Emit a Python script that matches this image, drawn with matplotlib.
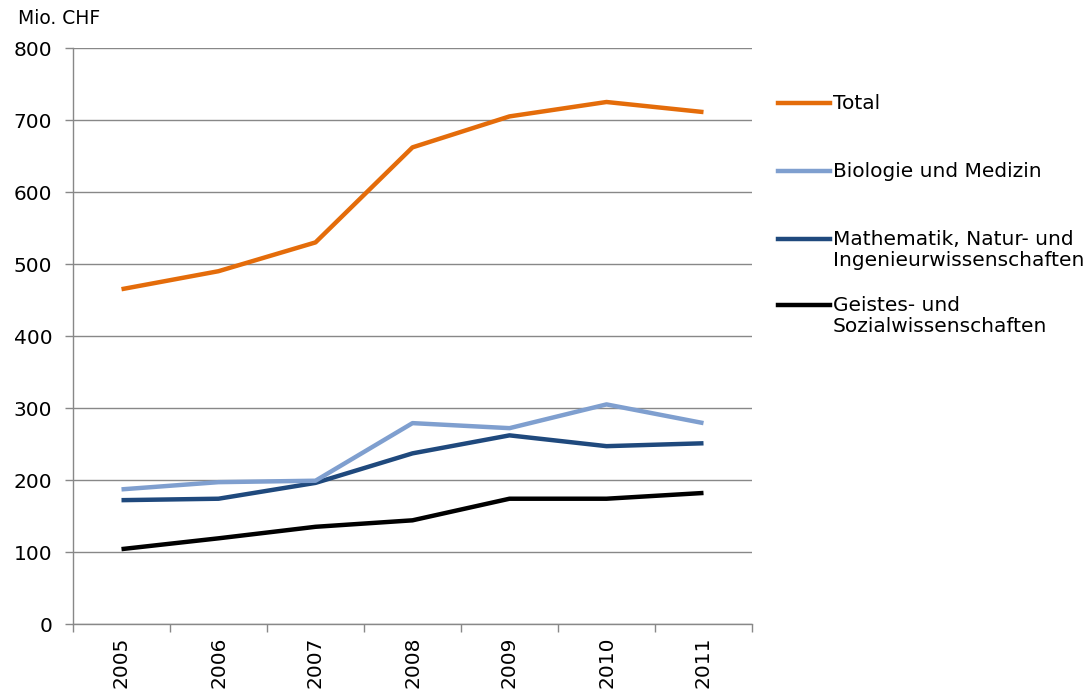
import matplotlib
matplotlib.use("Agg")
import matplotlib.pyplot as plt
from matplotlib.lines import Line2D
import numpy as np

years = ["2005", "2006", "2007", "2008", "2009", "2010", "2011"]
total = [465, 490, 530, 662, 705, 725, 711]
biologie = [187, 197, 199, 279, 272, 305, 279]
mathematik = [172, 174, 196, 237, 262, 247, 251]
geistes = [104, 119, 135, 144, 174, 174, 182]

labels = ["Total", "Biologie und Medizin",
          "Mathematik, Natur- und\nIngenieurwissenschaften",
          "Geistes- und\nSozialwissenschaften"]
colors = ["#E46C0A", "#7F9FCF", "#1F497D", "#000000"]
series = [total, biologie, mathematik, geistes]

plt.rcParams['font.family'] = ['DejaVu Sans']

W, H = 1087, 695
fig = plt.figure(figsize=(W / 100, H / 100), dpi=100)
ax = fig.add_axes([73 / W, (H - 624) / H, 679 / W, 576 / H])

x = np.arange(len(years))
for s, c in reversed(list(zip(series, colors))):
    ax.plot(x, s, color=c, lw=3.2, solid_capstyle='butt', zorder=3)

ax.set_xlim(-0.5, len(years) - 0.5)
ax.set_ylim(0, 800)
ax.set_yticks(np.arange(0, 801, 100))
ax.set_xticks(x)
ax.set_xticklabels(years, rotation=90, fontsize=14.5)
ax.tick_params(axis='x', which='major', length=0, pad=9)
ax.set_xticks(np.arange(-0.5, len(years), 1), minor=True)
ax.tick_params(axis='x', which='minor', length=6, color='#888888', width=1)
ax.tick_params(axis='y', length=6, color='#888888', width=1, labelsize=14.5, pad=9)
ax.yaxis.grid(True, color='#888888', lw=1)
ax.set_axisbelow(True)
for sp in ['top', 'right']:
    ax.spines[sp].set_visible(False)
for sp in ['left', 'bottom']:
    ax.spines[sp].set_color('#888888')
    ax.spines[sp].set_linewidth(1)

fig.text(18 / W, 1 - 19 / H, "Mio. CHF", fontsize=13.5, va='center', ha='left')

leg_y = [103, 171, 239, 305]
for lab, c, yy in zip(labels, colors, leg_y):
    fy = 1 - yy / H
    fig.add_artist(Line2D([778 / W, 830 / W], [fy, fy], color=c, lw=3.2,
                          transform=fig.transFigure))
    fig.text(833 / W, 1 - (yy - 9) / H, lab, fontsize=14.5, va='top', ha='left',
             linespacing=1.15, transform=fig.transFigure)

fig.savefig("out.png", dpi=100)
